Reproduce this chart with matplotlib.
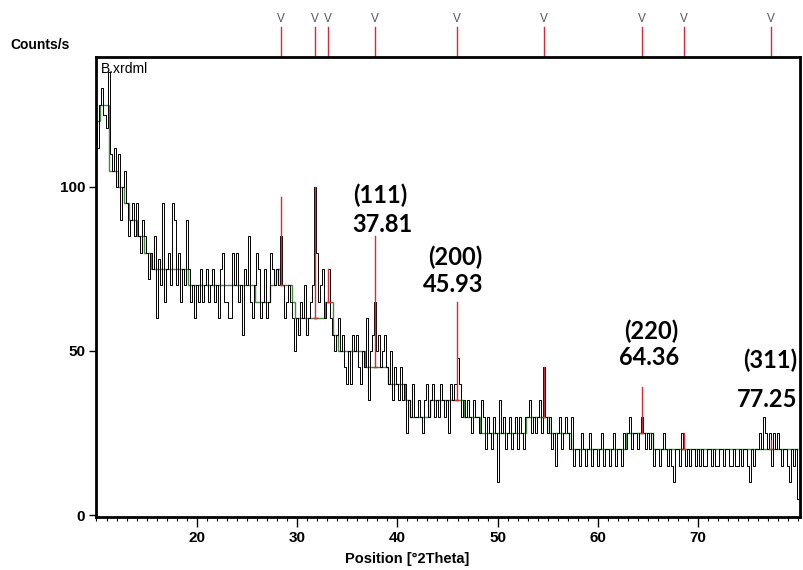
import numpy as np
import matplotlib
matplotlib.use('Agg')
import matplotlib.pyplot as plt
import matplotlib.transforms as mtransforms
from matplotlib.ticker import MultipleLocator

# scan: 10..80 deg 2theta, one reading every 0.2 deg (counts/s)
theta_start = 10.0
theta_step = 0.2
counts = [
    120, 112, 125, 130, 122,   # 10
    118, 135, 110, 105, 112,   # 11
    100, 110, 90, 100, 105,    # 12
    95, 85, 90, 95, 85,        # 13
    95, 85, 80, 90, 85,        # 14
    80, 72, 80, 75, 85,        # 15
    60, 78, 70, 95, 65,        # 16
    75, 80, 70, 95, 90,        # 17
    70, 80, 65, 75, 70,        # 18
    90, 75, 65, 70, 60,        # 19
    70, 65, 75, 65, 70,        # 20
    75, 65, 70, 75, 65,        # 21
    70, 60, 75, 80, 65,        # 22
    65, 60, 60, 80, 70,        # 23
    80, 65, 70, 55, 75,        # 24
    70, 85, 65, 60, 70,        # 25
    80, 75, 60, 65, 75,        # 26
    60, 65, 80, 75, 70,        # 27
    75, 70, 85, 70, 60,        # 28
    65, 70, 65, 60, 50,        # 29
    60, 55, 65, 60, 70,        # 30
    55, 60, 65, 70, 100,       # 31
    80, 65, 70, 75, 60,        # 32
    65, 75, 60, 55, 50,        # 33
    55, 60, 50, 55, 45,        # 34
    40, 50, 40, 55, 50,        # 35
    55, 45, 40, 50, 45,        # 36
    60, 35, 50, 55, 65,        # 37
    50, 55, 45, 50, 55,        # 38
    45, 40, 50, 35, 45,        # 39
    40, 35, 45, 35, 40,        # 40
    25, 35, 30, 40, 30,        # 41
    30, 35, 30, 25, 35,        # 42
    40, 30, 35, 40, 30,        # 43
    35, 30, 40, 35, 30,        # 44
    35, 25, 40, 35, 40,        # 45
    48, 40, 30, 35, 30,        # 46
    35, 30, 25, 35, 30,        # 47
    30, 25, 35, 30, 20,        # 48
    30, 25, 20, 30, 25,        # 49
    10, 35, 25, 30, 20,        # 50
    25, 30, 20, 25, 30,        # 51
    20, 30, 25, 20, 30,        # 52
    30, 35, 25, 30, 25,        # 53
    30, 35, 25, 45, 30,        # 54
    25, 30, 20, 25, 15,        # 55
    25, 30, 20, 25, 30,        # 56
    25, 20, 30, 15, 20,        # 57
    20, 15, 25, 20, 15,        # 58
    20, 25, 15, 20, 20,        # 59
    15, 20, 25, 15, 20,        # 60
    20, 15, 20, 25, 15,        # 61
    20, 20, 15, 25, 20,        # 62
    25, 30, 20, 25, 25,        # 63
    20, 25, 30, 25, 20,        # 64
    25, 20, 25, 15, 20,        # 65
    20, 15, 20, 25, 20,        # 66
    15, 20, 15, 10, 20,        # 67
    20, 15, 25, 20, 15,        # 68
    20, 15, 20, 20, 15,        # 69
    20, 15, 20, 15, 15,        # 70
    20, 20, 15, 20, 15,        # 71
    15, 20, 20, 15, 20,        # 72
    20, 15, 15, 20, 15,        # 73
    15, 20, 15, 20, 20,        # 74
    15, 10, 20, 15, 20,        # 75
    20, 25, 20, 30, 25,        # 76
    20, 25, 15, 25, 20,        # 77
    25, 20, 15, 20, 20,        # 78
    15, 10, 20, 15, 20,        # 79
    5,                         # 80
]
theta = theta_start + theta_step * np.arange(len(counts))

# fitted background (green steps)
bg_edges = [10.0, 10.4, 11.25, 12.1, 12.7, 13.2, 14.0, 14.7, 15.4, 19.1, 25.8,
            27.3, 27.9, 28.3, 29.5, 29.8, 32.8, 33.6, 34.1, 36.8, 39.1, 40.8,
            41.3, 43.3, 46.6, 48.2, 52.8, 55.1, 57.3, 62.8, 65.5, 80.0]
bg_levels = [120, 125, 105, 100, 95, 90, 85, 80, 75, 70,
             65, 70, 75, 70, 65, 60, 65, 55, 50, 45,
             40, 35, 30, 35, 30, 25, 30, 25, 20, 25, 20]

# peak list (red)
peak_pos = [28.42, 31.82, 33.11, 37.81, 45.93, 54.58, 64.36, 68.56, 77.25]
peak_top = [97, 100, 75, 85, 65, 45, 39, 25, 23]
peak_base = [70, 60, 65, 45, 35, 30, 25, 20, 20]

# labelled reflections
hkl = ['(111)', '(200)', '(220)', '(311)']
hkl_angle = ['37.81', '45.93', '64.36', '77.25']
hkl_xy = [(38.3, 97.5), (45.8, 78.7), (65.3, 56.0), (77.2, 47.3)]
angle_xy = [(38.5, 88.7), (45.6, 70.3), (65.1, 47.9), (76.9, 35.3)]

fig = plt.figure(figsize=(8.04, 5.7), dpi=100)
ax = fig.add_axes([0.12, 0.093, 0.875, 0.807])

ax.plot(theta, counts, drawstyle='steps-mid', color='black', lw=0.7)
ax.stairs(bg_levels, bg_edges, baseline=None, color='#3f8f3f', lw=1.0)

red = '#d8283a'
for p, t, b in zip(peak_pos, peak_top, peak_base):
    ax.plot([p, p], [b, t], color=red, lw=1.0)
    ax.plot([p - 0.15, p + 0.15], [b, b], color=red, lw=1.0)

# reference markers above the frame
trans = mtransforms.blended_transform_factory(ax.transData, ax.transAxes)
for p in peak_pos:
    ax.plot([p, p], [1.0, 1.066], transform=trans, color=red, lw=1.0, clip_on=False)
    ax.text(p, 1.083, 'V', transform=trans, ha='center', va='center',
            fontsize=8.5, color='#555555', family='Liberation Sans')

for lab, xy in zip(hkl, hkl_xy):
    ax.text(xy[0], xy[1], lab, ha='center', va='center', fontsize=17,
            fontweight='bold', family='Lato', clip_on=False)
for lab, xy in zip(hkl_angle, angle_xy):
    ax.text(xy[0], xy[1], lab, ha='center', va='center', fontsize=17,
            fontweight='bold', family='Lato', clip_on=False)

ax.text(0.006, 0.99, 'B.xrdml', transform=ax.transAxes, ha='left', va='top',
        fontsize=10, family='Liberation Sans')

ax.set_xlim(10, 80.15)
ax.set_ylim(-0.6, 139.6)
ax.set_xticks([20, 30, 40, 50, 60, 70])
ax.xaxis.set_minor_locator(MultipleLocator(1))
ax.set_yticks([0, 50, 100])
ax.tick_params(axis='both', which='major', direction='out', length=7, width=1,
               labelsize=11, pad=3)
ax.tick_params(axis='y', which='major', length=5)
ax.tick_params(axis='x', which='minor', direction='out', length=3, width=0.8)
for lab in ax.get_xticklabels() + ax.get_yticklabels():
    lab.set_fontweight('bold')
    lab.set_family('Liberation Sans')
for s in ax.spines.values():
    s.set_linewidth(2)

fig.text(10 / 804, 1 - 45 / 570, 'Counts/s', ha='left', va='center',
         fontsize=10, fontweight='bold', family='Liberation Sans')
fig.text(407 / 804, 1 - 559 / 570, 'Position [°2Theta]', ha='center', va='center',
         fontsize=10.5, fontweight='bold', family='Liberation Sans')

fig.savefig('out.png', dpi=100)
